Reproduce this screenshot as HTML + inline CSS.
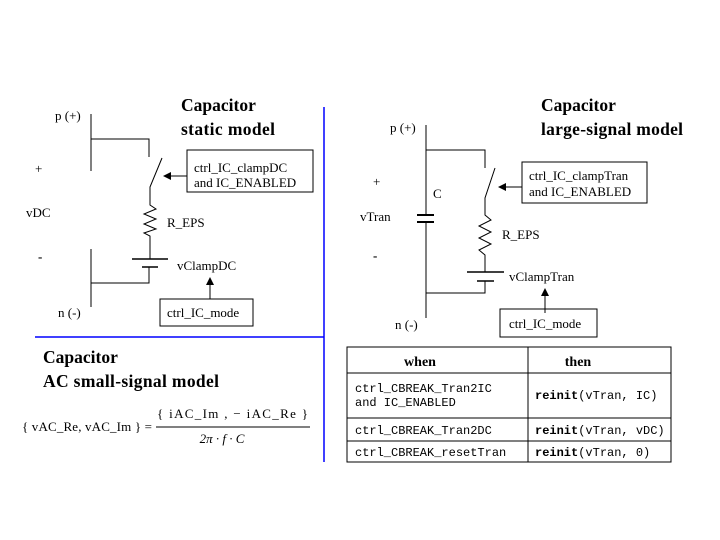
<!DOCTYPE html>
<html><head><style>body{margin:0;background:#fff}svg{display:block}</style></head><body>
<svg width="720" height="540" xmlns="http://www.w3.org/2000/svg" font-family="Liberation Serif, serif" font-size="13">
<g stroke="#000" stroke-width="1" fill="none">
<path d="M91 114V171M91 249V307M91 139H149V157M162 158L150 187V205L156 209L144 214L156 219L144 224L156 229L144 233L150 236V259M149 267V283H91"/>
<path d="M132 259H168M142 267H158" stroke-width="1.5"/>
<path d="M187 176H170M210 299V283"/>
<rect x="187" y="150" width="126" height="42"/>
<rect x="160" y="299" width="93" height="27"/>
<path d="M426 125V215M426 222V318M426 150H485V168M495 168L485 198V215L491 220L479 226L491 232L479 238L491 244L479 250L485 255V272M485 281V293H426"/>
<path d="M417 215H434M417 222H434" stroke-width="2"/>
<path d="M467 272H504M477 281H494" stroke-width="1.5"/>
<path d="M522 187H505M545 313V295"/>
<rect x="522" y="162" width="125" height="41"/>
<rect x="500" y="309" width="97" height="28"/>
<path d="M156 427H310"/>
<rect x="347" y="347" width="324" height="115"/>
<path d="M347 373H671M347 418H671M347 441H671M528 347V462"/>
</g>
<g fill="#000">
<path d="M163 176L171 172V180Z"/>
<path d="M210 277L206 285H214Z"/>
<path d="M498 187L506 183V191Z"/>
<path d="M545 288L541 296H549Z"/>
</g>
<g stroke="#00f" stroke-width="1.5"><path d="M324 107V462M35 337H324"/></g>
<text x="55" y="120">p (+)</text>
<text x="35" y="173">+</text>
<text x="26" y="217">vDC</text>
<text x="38" y="261" font-weight="bold">-</text>
<text x="58" y="317">n (-)</text>
<text x="167" y="227">R_EPS</text>
<text x="177" y="270">vClampDC</text>
<text x="194" y="172">ctrl_IC_clampDC</text>
<text x="194" y="187">and IC_ENABLED</text>
<text x="167" y="317">ctrl_IC_mode</text>
<g font-weight="bold" font-size="17.5">
<text x="181" y="111">Capacitor</text><text x="181" y="135" textLength="94">static model</text>
<text x="541" y="111">Capacitor</text><text x="541" y="135" textLength="142">large-signal model</text>
<text x="43" y="363">Capacitor</text><text x="43" y="387" textLength="176">AC small-signal model</text>
</g>
<text x="390" y="132">p (+)</text>
<text x="373" y="186">+</text>
<text x="433" y="198">C</text>
<text x="360" y="221">vTran</text>
<text x="373" y="260" font-weight="bold">-</text>
<text x="395" y="329">n (-)</text>
<text x="502" y="239">R_EPS</text>
<text x="509" y="281">vClampTran</text>
<text x="529" y="180">ctrl_IC_clampTran</text>
<text x="529" y="196">and IC_ENABLED</text>
<text x="509" y="328">ctrl_IC_mode</text>
<text x="22" y="431" textLength="130">{ vAC_Re, vAC_Im } =</text>
<text x="157" y="418" textLength="151">{ iAC_Im , − iAC_Re }</text>
<text x="222" y="443" text-anchor="middle" font-style="italic">2π · f · C</text>
<g font-weight="bold" font-size="14" text-anchor="middle"><text x="420" y="366">when</text><text x="578" y="366">then</text></g>
<g font-family="Liberation Mono, monospace" font-size="12">
<text x="355" y="392">ctrl_CBREAK_Tran2IC</text>
<text x="355" y="406">and IC_ENABLED</text>
<text x="355" y="434">ctrl_CBREAK_Tran2DC</text>
<text x="355" y="456">ctrl_CBREAK_resetTran</text>
<text x="535" y="399"><tspan font-weight="bold">reinit</tspan>(vTran, IC)</text>
<text x="535" y="434"><tspan font-weight="bold">reinit</tspan>(vTran, vDC)</text>
<text x="535" y="456"><tspan font-weight="bold">reinit</tspan>(vTran, 0)</text>
</g>
</svg>
</body></html>
